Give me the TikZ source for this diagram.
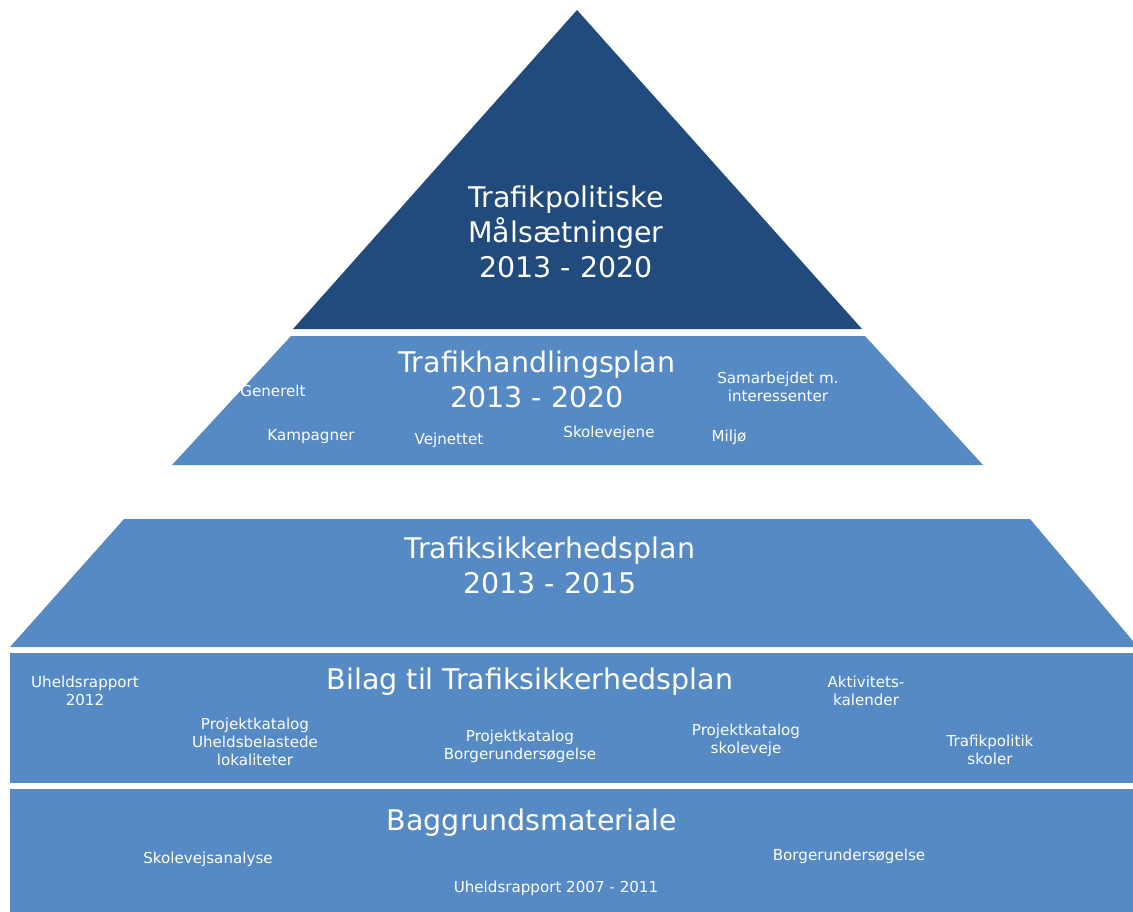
\documentclass[tikz,border=0pt]{standalone}
\usepackage{fontspec}
\setmainfont{DejaVu Sans}
\usepackage{tikz}
\usetikzlibrary{positioning}
\definecolor{topblue}{HTML}{214A7D}
\definecolor{layerblue}{HTML}{568AC4}
\tikzset{
    layer/.style={fill=layerblue},
    peak/.style={fill=topblue},
    head/.style={
        text=white,
        align=center,
        inner sep=0pt,
        font={\fontsize{16.2pt}{19.8pt}\selectfont}
    },
    item/.style={
        text=white,
        align=center,
        inner sep=0pt,
        font={\fontsize{8.6pt}{10.2pt}\selectfont}
    },
}

\begin{document}
\begin{tikzpicture}[x=0.2mm, y=-0.2mm]
\useasboundingbox (0,0) rectangle (1133,912);
\fill[peak] (577,10) -- (862,329) -- (293,329) -- cycle;
\fill[layer] (291,336) -- (865,336) -- (983,465) -- (172,465) -- cycle;
\fill[layer] (124,519) -- (1030,519) -- (1138,647) -- (10,647) -- cycle;
\fill[layer] (10,653) rectangle (1133,783);
\fill[layer] (10,789) rectangle (1133,912);

\node[head](maal) at (566,232){Trafikpolitiske\\Målsætninger\\2013 - 2020};

\node[head](thp) at (537,379){Trafikhandlingsplan\\2013 - 2020};
\node[item](gen) at (273,391){Generelt};
\node[item](samarb) at (778,387){Samarbejdet m.\\interessenter};
\node[item](kamp) at (311,437){Kampagner};
\node[item](vejnet) at (449,440){Vejnettet};
\node[item](skolevej) at (609,433){Skolevejene};
\node[item](miljo) at (729,437){Miljø};

\node[head](tsp) at (550,565){Trafiksikkerhedsplan\\2013 - 2015};

\node[head](bilag) at (530,682){Bilag til Trafiksikkerhedsplan};
\node[item](uh12) at (85,691){Uheldsrapport\\2012};
\node[item](aktiv) at (866,691){Aktivitets-\\kalender};
\node[item](pkuh) at (255,742){Projektkatalog\\Uheldsbelastede\\lokaliteter};
\node[item](pkborg) at (520,746){Projektkatalog\\Borgerundersøgelse};
\node[item](pkskole) at (746,740){Projektkatalog\\skoleveje};
\node[item](tpskoler) at (990,750){Trafikpolitik\\skoler};

\node[head](baggrund) at (532,823){Baggrundsmateriale};
\node[item](svanalyse) at (208,859){Skolevejsanalyse};
\node[item](borger) at (849,856){Borgerundersøgelse};
\node[item](uh0711) at (556,888){Uheldsrapport 2007 - 2011};
\end{tikzpicture}
\end{document}
